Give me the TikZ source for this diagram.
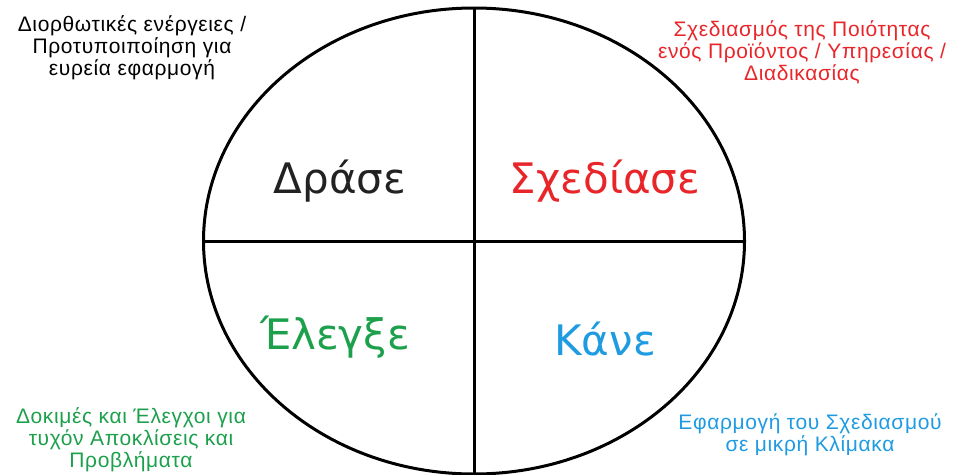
\documentclass[tikz,border=0pt]{standalone}
\usepackage{fontspec}
\setmainfont{Liberation Sans}[LetterSpace=3]
\newfontfamily\bigfont{DejaVu Sans}
\usetikzlibrary{shapes.geometric}
\definecolor{cred}{RGB}{232,38,42}
\definecolor{cgreen}{RGB}{28,160,76}
\definecolor{cblue}{RGB}{30,155,225}
\definecolor{cdark}{RGB}{34,34,34}
\begin{document}
\begin{tikzpicture}[x=1pt,y=-1pt,
  small/.style={align=center, font=\fontsize{21}{22}\selectfont, inner sep=0, anchor=center},
  big/.style={font=\bigfont\fontsize{42}{48}\selectfont, inner sep=0, anchor=base},
  divider/.style={line width=3pt, draw=black}]
\useasboundingbox (0,0) rectangle (955,474);
\node[ellipse, draw, line width=3pt, minimum width=541, minimum height=466, inner sep=0] (E) at (474,241) {};
\draw[divider] (E.north) -- (E.south);
\draw[divider] (E.west) -- (E.east);
\node[big, text=cdark] (act) at (340,193) {Δράσε};
\node[big, text=cred] (plan) at (605,193) {Σχεδίασε};
\node[big, text=cgreen] (check) at (335,349) {Έλεγξε};
\node[big, text=cblue] (do) at (605,355) {Κάνε};
\node[small, text=black] (tl) at (132,48) {Διορθωτικές ενέργειες /\\Προτυποιποίηση για\\ευρεία εφαρμογή};
\node[small, text=cred] (tr) at (802,52) {Σχεδιασμός της Ποιότητας\\ενός Προϊόντος / Υπηρεσίας /\\Διαδικασίας};
\node[small, text=cgreen] (bl) at (131,440) {Δοκιμές και Έλεγχοι για\\τυχόν Αποκλίσεις και\\Προβλήματα};
\node[small, text=cblue] (br) at (810,435) {Εφαρμογή του Σχεδιασμού\\σε μικρή Κλίμακα};
\end{tikzpicture}
\end{document}
